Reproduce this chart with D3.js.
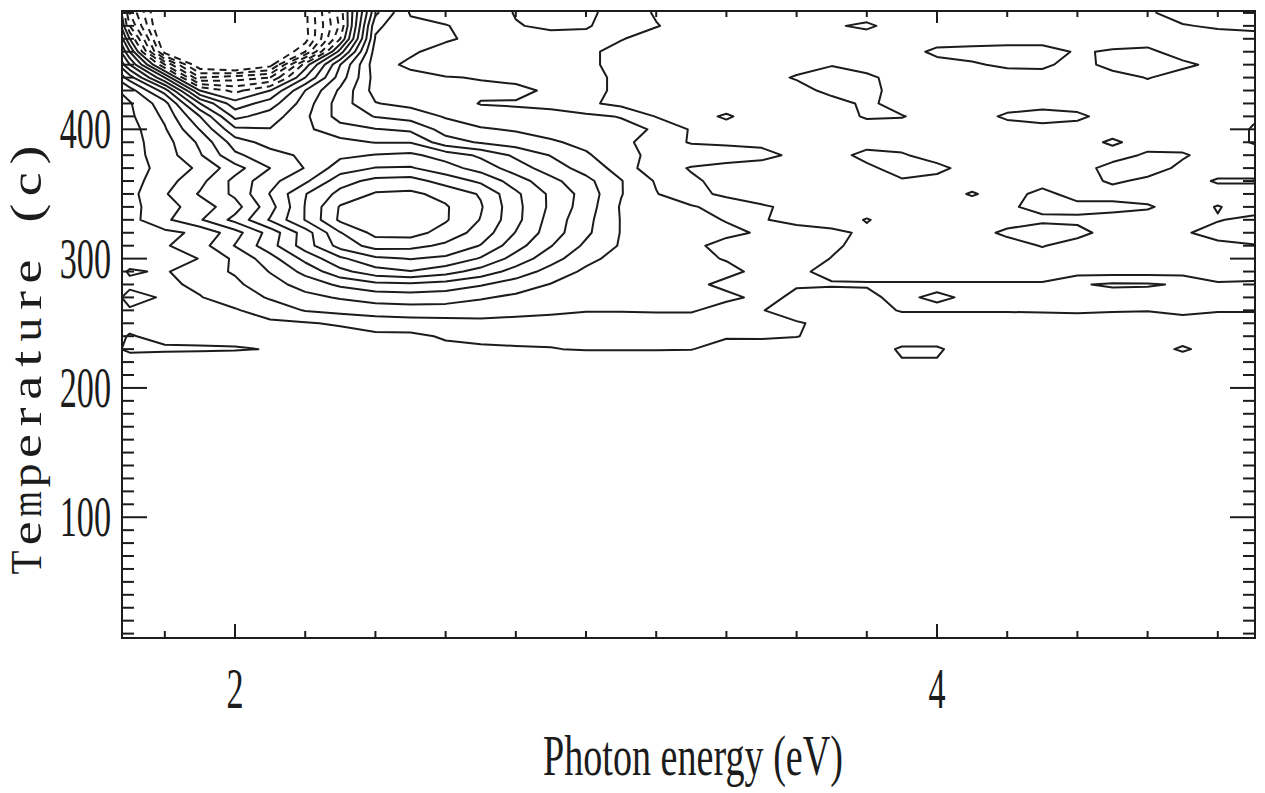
<!DOCTYPE html>
<html>
<head>
<meta charset="utf-8">
<script src="https://cdn.jsdelivr.net/npm/d3@7"></script>
<style>
html, body { margin: 0; padding: 0; background: #fff; }
svg { display: block; }
</style>
</head>
<body>
<svg id="chart" width="1265" height="793"></svg>
<script>
// grid columns: photon energy (eV)
var energies = [1.6, 1.7, 1.8, 1.9, 2.0, 2.1, 2.2, 2.3, 2.4, 2.5, 2.6, 2.7, 2.8, 2.9, 3.0, 3.1, 3.2, 3.3,
                3.4, 3.5, 3.6, 3.7, 3.8, 3.9, 4.0, 4.1, 4.2, 4.3, 4.4, 4.5, 4.6, 4.7, 4.8, 4.9, 5.0];
// grid rows: temperature (c), top row first
var temperatures = [500, 490, 480, 470, 460, 450, 440, 430, 420, 410, 400, 390, 380, 370, 360,
                    350, 340, 330, 320, 310, 300, 290, 280, 270, 260, 250, 240, 230, 220, 210];

// contour levels, the high ones are dashed
var levels = [1, 2, 3, 4, 5, 6, 7, 8, 9, 10, 11, 12, 13, 14, 15, 16];
var dashedFrom = 11;

var xLabels = [2, 4];
var yLabels = [100, 200, 300, 400];

// signal, one row per temperature
var t500 = [0, 13, 18, 18, 18, 18, 16.3, 11.5, 4.2, 1.9, 1.6, 1.5, 2.05, 2.3, 2.2, 1.6, 0.9, 0.6, 0.6, 0.6, 0.6, 0.6, 0.6, 0.6, 0.6, 0.6, 0.6, 0.6, 0.6, 0.6, 0.9, 1.3, 1.5, 1.5, 1.5];
var t490 = [0, 13, 18, 18, 18, 18, 16.3, 11.5, 4.2, 1.9, 1.6, 1.5, 2.05, 2.3, 2.2, 1.6, 0.9, 0.6, 0.6, 0.6, 0.6, 0.6, 0.6, 0.6, 0.6, 0.6, 0.6, 0.6, 0.6, 0.6, 0.9, 1.3, 1.5, 1.5, 1.5];
var t480 = [0, 12, 18, 18, 18, 18, 16.3, 11.8, 3.2, 2.3, 2.05, 1.6, 1.95, 2.15, 2.1, 1.5, 1.05, 0.6, 0.6, 0.6, 0.6, 0.9, 1.15, 0.6, 0.6, 0.6, 0.6, 0.6, 0.6, 0.6, 0.7, 0.95, 1.1, 1.2, 1.2];
var t470 = [0, 10, 17.5, 18, 18, 18, 16.5, 11, 2.9, 2.5, 2.15, 1.7, 1.6, 1.7, 1.7, 1.05, 0.6, 0.6, 0.6, 0.6, 0.6, 0.6, 0.6, 0.6, 0.6, 0.6, 0.6, 0.6, 0.6, 0.6, 0.6, 0.6, 0.7, 0.7, 0.7];
var t460 = [0, 8, 16.5, 18, 18, 18, 15, 8.5, 2.5, 2.15, 1.6, 1.5, 1.5, 1.4, 1.2, 0.7, 0.6, 0.6, 0.6, 0.6, 0.6, 0.6, 0.6, 0.6, 1.2, 1.3, 1.4, 1.4, 0.9, 1.1, 1.2, 0.6, 0.6, 0.6, 0.6];
var t450 = [0, 6, 12, 17, 18, 16.5, 10.5, 6, 2.4, 1.8, 1.5, 1.5, 1.5, 1.4, 1.2, 0.7, 0.6, 0.6, 0.6, 0.6, 0.6, 0.95, 0.6, 0.6, 0.7, 0.9, 1.15, 1.2, 0.6, 1.35, 1.4, 1.2, 0.75, 0.6, 0.6];
var t440 = [0, 3.5, 8, 14, 13.5, 13, 9, 5.5, 2.6, 2.3, 2.05, 1.95, 1.7, 1.4, 1.3, 0.8, 0.6, 0.6, 0.6, 0.6, 1.1, 1.4, 1.2, 0.6, 0.6, 0.6, 0.6, 0.6, 0.6, 0.6, 1.05, 0.6, 0.6, 0.6, 0.6];
var t430 = [0, 1.5, 4.5, 10, 11.3, 10, 7, 4.8, 2.6, 2.6, 2.4, 2.2, 2.3, 1.8, 1.3, 0.8, 0.6, 0.6, 0.6, 0.6, 0.6, 1.3, 1.3, 0.6, 0.6, 0.6, 0.6, 0.6, 0.6, 0.6, 0.6, 0.6, 0.6, 0.6, 0.6];
var t420 = [0, 0.9, 2.6, 7, 9.6, 8.5, 6.5, 4.5, 3.05, 2.7, 2.5, 1.95, 1.9, 1.8, 1.2, 0.7, 0.6, 0.6, 0.6, 0.6, 0.6, 0.6, 1.2, 0.6, 0.6, 0.6, 0.6, 0.6, 0.6, 0.6, 0.6, 0.6, 0.6, 0.6, 0.6];
var t410 = [0, 0.8, 2.2, 5, 8.3, 7.5, 6.2, 4.6, 3.95, 3.6, 2.9, 2.5, 2.3, 2.25, 2.2, 1.95, 0.95, 0.7, 1.1, 0.6, 0.6, 0.6, 1.1, 1.05, 0.6, 0.6, 1.15, 1.45, 1.2, 0.6, 0.6, 0.6, 0.6, 0.9, 1.2];
var t400 = [0, 0.6, 1.9, 4.05, 6.8, 6.95, 6.2, 5.4, 5.05, 4.8, 3.6, 3.1, 2.9, 2.7, 2.5, 2.3, 1.9, 0.9, 0.7, 0.6, 0.6, 0.6, 0.6, 0.6, 0.6, 0.6, 0.6, 0.6, 0.6, 0.6, 0.6, 0.6, 0.6, 1.05, 1.3];
var t390 = [0, 0.6, 1.6, 3.2, 5.5, 6.4, 6.6, 6.3, 5.95, 5.95, 4.4, 3.9, 3.5, 3.1, 2.8, 2.4, 1.3, 0.95, 0.9, 0.85, 0.6, 0.6, 0.6, 0.6, 0.6, 0.6, 0.6, 0.6, 0.6, 1.15, 0.6, 0.6, 0.6, 1.05, 1.3];
var t380 = [0, 0.6, 1.5, 2.9, 4.8, 5.6, 6.2, 6.8, 7.05, 7.2, 6.6, 5.8, 4.8, 3.95, 3.1, 2.5, 1.6, 1.4, 1.3, 1.2, 0.85, 0.6, 1.3, 1.1, 0.6, 0.6, 0.6, 0.6, 0.6, 0.6, 1.15, 1.1, 0.6, 0.6, 0.9];
var t370 = [0, 0.6, 1.3, 2.2, 3.6, 5.0, 6.05, 7.5, 8.05, 8.1, 7.4, 6.6, 5.5, 4.5, 3.6, 2.6, 1.3, 0.95, 0.8, 0.7, 0.6, 0.6, 0.8, 1.4, 1.25, 0.6, 0.6, 0.6, 0.6, 1.35, 1.4, 0.8, 0.6, 0.6, 0.6];
var t360 = [0, 0.6, 1.6, 2.7, 4.3, 5.7, 6.8, 8.6, 9.3, 9.4, 8.6, 7.8, 6.5, 5.3, 4.3, 3.05, 1.9, 1.1, 0.8, 0.7, 0.6, 0.6, 0.6, 0.9, 0.7, 0.6, 0.6, 0.6, 0.6, 1.15, 0.8, 0.6, 1.1, 1.1, 0.6];
var t350 = [0, 0.7, 1.9, 3.1, 4.2, 6.05, 7.95, 9.3, 10.1, 10.2, 9.7, 8.9, 7.2, 5.8, 4.6, 3.05, 2.05, 1.3, 0.8, 0.6, 0.6, 0.6, 0.6, 0.6, 0.6, 1.08, 0.6, 1.3, 0.6, 0.6, 0.6, 0.6, 0.6, 0.6, 0.6];
var t340 = [0, 0.7, 1.6, 2.5, 3.6, 5.6, 8.05, 10.1, 10.8, 10.8, 10.1, 9.1, 7.3, 5.8, 4.5, 2.9, 2.4, 2.1, 1.6, 1.1, 0.8, 0.6, 0.6, 0.6, 0.6, 0.6, 0.9, 1.2, 1.3, 1.3, 1.1, 0.6, 1.05, 0.6, 0.6];
var t330 = [0, 0.65, 1.8, 2.9, 4.3, 6.1, 8.05, 10.2, 10.9, 10.8, 10.1, 8.95, 7.3, 5.6, 4.3, 2.95, 2.5, 2.3, 1.95, 1.05, 0.8, 0.6, 1.05, 0.6, 0.6, 0.6, 0.6, 0.85, 0.8, 0.6, 0.6, 0.6, 0.95, 1.2, 1.2];
var t320 = [0, 0.6, 0.75, 1.2, 2.6, 4.4, 6.5, 8.95, 10.3, 10.4, 9.6, 8.6, 6.95, 5.5, 4.2, 2.95, 2.5, 2.3, 2.2, 1.9, 1.3, 1.2, 0.85, 0.6, 0.6, 0.6, 1.2, 1.4, 1.3, 0.6, 0.6, 0.9, 1.3, 1.4, 1.4];
var t310 = [0, 0.6, 0.9, 1.6, 3.05, 4.6, 6.5, 8.4, 9.4, 9.3, 8.8, 7.95, 6.4, 5.05, 3.8, 2.9, 2.4, 2.2, 1.7, 1.5, 1.4, 1.1, 0.8, 0.6, 0.6, 0.6, 0.6, 1.05, 0.6, 0.6, 0.6, 0.6, 0.8, 0.95, 1.1];
var t300 = [0, 0.6, 0.7, 1.02, 2.2, 3.6, 5.3, 6.8, 7.8, 8.05, 7.8, 6.9, 5.6, 4.4, 3.3, 2.6, 2.3, 2.2, 1.95, 1.4, 1.3, 0.98, 0.6, 0.6, 0.6, 0.6, 0.6, 0.6, 0.6, 0.6, 0.6, 0.6, 0.6, 0.6, 0.7];
var t290 = [0, 1.1, 0.9, 1.6, 2.1, 3.05, 4.3, 5.7, 6.6, 6.95, 6.4, 5.6, 4.6, 3.6, 2.8, 2.4, 2.3, 2.25, 2.2, 1.8, 1.2, 0.7, 0.6, 0.6, 0.6, 0.6, 0.6, 0.6, 0.6, 0.6, 0.6, 0.6, 0.6, 0.6, 0.7];
var t280 = [0, 0.8, 0.8, 1.2, 1.8, 2.6, 3.4, 4.2, 4.7, 4.8, 4.6, 4.1, 3.5, 2.95, 2.6, 2.4, 2.2, 2.2, 1.8, 1.6, 1.2, 1.1, 1.1, 1.1, 1.1, 1.1, 1.1, 1.1, 1.9, 2.15, 2.1, 1.9, 1.1, 1.15, 1.2];
var t270 = [0, 1.3, 0.9, 0.95, 1.5, 2.1, 2.7, 3.1, 3.4, 3.5, 3.4, 3.1, 2.8, 2.5, 2.3, 2.2, 2.2, 2.2, 2.2, 1.8, 0.5, 0.5, 0.7, 1.4, 2.6, 1.4, 1.4, 1.4, 1.4, 1.5, 1.5, 1.4, 1.3, 1.3, 1.3];
var t260 = [0, 0.9, 0.5, 0.5, 0.9, 1.5, 2.05, 2.3, 2.5, 2.6, 2.6, 2.5, 2.3, 2.15, 2.05, 2.05, 2.1, 2.1, 1.6, 1.05, 0.5, 0.5, 0.5, 1.1, 1.1, 1.1, 1.1, 1.15, 1.2, 1.1, 1.05, 1.4, 1.1, 1.1, 1.1];
var t250 = [0, 0.6, 0.3, 0.3, 0.5, 0.8, 0.9, 1.15, 1.4, 1.5, 1.6, 1.7, 1.7, 1.7, 1.6, 1.6, 1.5, 1.5, 1.4, 1.3, 1.1, 0.7, 0.3, 0.3, 0.3, 0.3, 0.3, 0.3, 0.3, 0.3, 0.3, 0.3, 0.3, 0.3, 0.3];
var t240 = [0, 1.1, 0.6, 0.6, 0.6, 0.3, 0.3, 0.5, 0.8, 0.8, 1.1, 1.25, 1.3, 1.3, 1.25, 1.2, 1.2, 1.2, 1.15, 1.2, 1.05, 0.5, 0.2, 0.2, 0.2, 0.2, 0.2, 0.2, 0.2, 0.2, 0.2, 0.2, 0.2, 0.2, 0.2];
var t230 = [0, 1.3, 1.2, 1.15, 1.1, 0.95, 0.2, 0.2, 0.3, 0.5, 0.8, 0.85, 0.9, 0.95, 1.1, 1.1, 1.1, 1.05, 0.4, 0.3, 0.3, 0.2, 0.2, 1.2, 1.2, 0.2, 0.2, 0.2, 0.2, 0.2, 0.2, 1.25, 0.2, 0.2, 0.2];
var t220 = [0, 0.2, 0.2, 0.2, 0.2, 0.1, 0, 0, 0, 0, 0, 0, 0, 0, 0, 0, 0, 0, 0, 0, 0, 0, 0, 0.9, 0.9, 0, 0, 0, 0, 0, 0, 0, 0, 0, 0];
var t210 = [0, 0, 0, 0, 0, 0, 0, 0, 0, 0, 0, 0, 0, 0, 0, 0, 0, 0, 0, 0, 0, 0, 0, 0, 0, 0, 0, 0, 0, 0, 0, 0, 0, 0, 0];

var signal = [t500, t490, t480, t470, t460, t450, t440, t430, t420, t410, t400, t390, t380, t370, t360,
              t350, t340, t330, t320, t310, t300, t290, t280, t270, t260, t250, t240, t230, t220, t210];

var svg = d3.select('#chart');
var frame = {left: 122, right: 1255, top: 11, bottom: 638};
var ink = '#1c1c1c';

var x = d3.scaleLinear().domain([1.678, 4.906]).range([frame.left, frame.right]);
var y = d3.scaleLinear().domain([6.6, 491.5]).range([frame.bottom, frame.top]);

// contour grid coordinates -> data values (samples sit at cell centres)
var nx = energies.length, ny = temperatures.length;
var gridE = d3.scaleLinear().domain([0.5, nx - 0.5]).range([energies[0], energies[nx - 1]]);
var gridT = d3.scaleLinear().domain([0.5, ny - 0.5]).range([temperatures[0], temperatures[ny - 1]]);

var contours = d3.contours()
	.size([nx, ny])
	.thresholds(levels)(signal.flat());

var toPlot = d3.geoTransform({
	point: function(gx, gy){ this.stream.point(x(gridE(gx)), y(gridT(gy))); }
});
var path = d3.geoPath(toPlot);

svg.append('clipPath').attr('id', 'inside')
	.append('rect')
	.attr('x', frame.left).attr('y', frame.top)
	.attr('width', frame.right - frame.left).attr('height', frame.bottom - frame.top);

svg.append('g')
	.attr('clip-path', 'url(#inside)')
	.selectAll('path')
		.data(contours)
	.enter()
		.append('path')
		.attr('d', path)
		.attr('fill', 'none')
		.attr('stroke', ink)
		.attr('stroke-width', 2)
		.attr('stroke-linejoin', 'round')
		.attr('stroke-dasharray', function(d){ return d.value >= dashedFrom ? '7,5' : null; });

// frame
svg.append('rect')
	.attr('x', frame.left).attr('y', frame.top)
	.attr('width', frame.right - frame.left).attr('height', frame.bottom - frame.top)
	.attr('fill', 'none').attr('stroke', ink).attr('stroke-width', 2);

// ticks, all pointing inwards
var yTicks = d3.range(10, 491, 10);
var xTicks = d3.range(1.8, 4.81, 0.2).map(function(v){ return Math.round(v * 10) / 10; });
function isMajorY(v){ return v % 100 === 0; }
function isMajorX(v){ return Math.abs(v - Math.round(v)) < 1e-6 && Math.round(v) % 2 === 0; }

var ticks = svg.append('g').attr('stroke', ink).attr('stroke-width', 2);

ticks.selectAll('.ty-left').data(yTicks).enter().append('line')
	.attr('class', 'ty-left')
	.attr('x1', frame.left).attr('x2', function(d){ return frame.left + (isMajorY(d) ? 25 : 12); })
	.attr('y1', function(d){ return y(d); }).attr('y2', function(d){ return y(d); });

ticks.selectAll('.ty-right').data(yTicks).enter().append('line')
	.attr('class', 'ty-right')
	.attr('x1', frame.right).attr('x2', function(d){ return frame.right - (isMajorY(d) ? 25 : 12); })
	.attr('y1', function(d){ return y(d); }).attr('y2', function(d){ return y(d); });

ticks.selectAll('.tx-bottom').data(xTicks).enter().append('line')
	.attr('class', 'tx-bottom')
	.attr('x1', function(d){ return x(d); }).attr('x2', function(d){ return x(d); })
	.attr('y1', frame.bottom).attr('y2', function(d){ return frame.bottom - (isMajorX(d) ? 14 : 7); });

ticks.selectAll('.tx-top').data(xTicks).enter().append('line')
	.attr('class', 'tx-top')
	.attr('x1', function(d){ return x(d); }).attr('x2', function(d){ return x(d); })
	.attr('y1', frame.top).attr('y2', function(d){ return frame.top + (isMajorX(d) ? 12 : 6); });

// tick labels in a tall narrow serif
var labelFont = "'Liberation Serif', 'DejaVu Serif', serif";
var squeeze = 0.6;

svg.selectAll('.ylabel').data(yLabels).enter().append('text')
	.attr('class', 'ylabel')
	.attr('transform', function(d){ return 'translate(111,' + (y(d) + 19) + ') scale(' + squeeze + ',1)'; })
	.attr('text-anchor', 'end')
	.attr('font-family', labelFont).attr('font-size', 57).attr('fill', ink)
	.text(function(d){ return d; });

svg.selectAll('.xlabel').data(xLabels).enter().append('text')
	.attr('class', 'xlabel')
	.attr('transform', function(d){ return 'translate(' + x(d) + ',708) scale(' + squeeze + ',1)'; })
	.attr('text-anchor', 'middle')
	.attr('font-family', labelFont).attr('font-size', 57).attr('fill', ink)
	.text(function(d){ return d; });

// x title
var xTitle = svg.append('text')
	.attr('text-anchor', 'middle')
	.attr('font-family', labelFont).attr('font-size', 57).attr('fill', ink)
	.text('Photon energy (eV)');
var titleWidth = xTitle.node().getComputedTextLength();
xTitle.attr('transform', 'translate(693,775) scale(' + (300 / titleWidth) + ',1)');

// y title: serif letters set on a fixed pitch, like a typewriter face
var yTitle = 'Temperature (c)'.split('');
var pitch = 29.1;
svg.selectAll('.ytitle').data(yTitle).enter().append('text')
	.attr('class', 'ytitle')
	.attr('text-anchor', 'middle')
	.attr('font-family', labelFont).attr('font-size', 44).attr('fill', ink)
	.text(function(d){ return d; })
	.each(function(d, i){
		var w = this.getComputedTextLength() || 1;
		var s = Math.max(0.75, Math.min(1.3, 24 / w));
		d3.select(this).attr('transform',
			'translate(41,' + (577 - pitch * (i + 0.5)) + ') rotate(-90) scale(' + s + ',1)');
	});
</script>
</body>
</html>
